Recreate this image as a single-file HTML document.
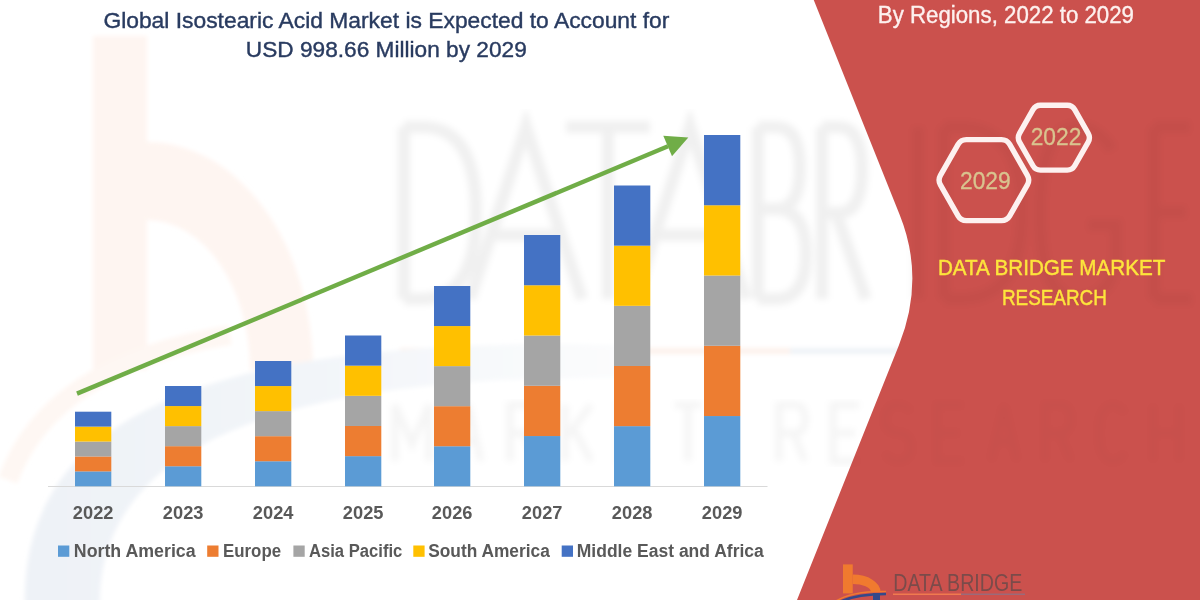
<!DOCTYPE html>
<html>
<head>
<meta charset="utf-8">
<style>
html,body{margin:0;padding:0;background:#ffffff;}
body{width:1200px;height:600px;overflow:hidden;}
svg{display:block;}
text{font-family:"Liberation Sans",sans-serif;}
</style>
</head>
<body>
<svg width="1200" height="600" viewBox="0 0 1200 600">
  <rect x="0" y="0" width="1200" height="600" fill="#ffffff"/>

  <!-- faint watermark logo -->
  <defs>
    <filter id="bl" x="-10%" y="-10%" width="120%" height="120%"><feGaussianBlur stdDeviation="3"/></filter>
    <filter id="bl2" x="-10%" y="-10%" width="120%" height="120%"><feGaussianBlur stdDeviation="2"/></filter>
    <clipPath id="redclip"><path d="M813.75 0 L1200 0 L1200 600 L797 600 L899 345 Q925.4 279 899.75 215 Z"/></clipPath>
    <linearGradient id="swg" x1="0" y1="0" x2="620" y2="0" gradientUnits="userSpaceOnUse">
      <stop offset="0" stop-color="#eef2f7"/><stop offset="0.5" stop-color="#f2f5f9"/><stop offset="1" stop-color="#fbfcfd"/>
    </linearGradient>
  </defs>
  <g id="wm" filter="url(#bl2)">
    <rect x="400" y="348" width="390" height="6" fill="#fdf2ec"/>
    <rect x="790" y="348" width="120" height="6" fill="#eff3f7"/>
    <rect x="93" y="36" width="54" height="334" fill="#fef5f1"/>
    <path d="M147 142 A166 228 0 0 1 313 370 L250 370 A103 150 0 0 0 147 220 Z" fill="#fef5f1"/>
    <path d="M8 480 Q 50 365 230 335" fill="none" stroke="#fef7f3" stroke-width="20"/>
    <path d="M25 610 C 18 420, 200 335, 620 345 L 620 378 C 270 375, 95 450, 100 610 Z" fill="url(#swg)"/>
  </g>

  
  <!-- watermark letters -->
  <g fill="none" stroke="#000" stroke-opacity="0.06" stroke-width="12" filter="url(#bl)">
    <path d="M404 127 L404 299 M404 127 L422 127 Q476 127 476 213.0 Q476 299 422 299 L404 299"/>
    <path d="M470 299 L526 127 L582 299 M491 235 L561 235"/>
    <path d="M566 127 L650 127 M608 127 L608 299"/>
    <path d="M634 299 L690 127 L746 299 M655 235 L725 235"/>
    <path d="M758 127 L758 299 M758 127 L776 127 Q800 127 800 168 Q800 209 776 209 L758 209 M776 209 Q806 209 806 254 Q806 299 776 299 L758 299"/>
    <path d="M822 127 L822 299 M822 127 L838 127 Q862 127 862 170 Q862 213 838 213 L822 213 M836 213 L866 299"/>
    <path d="M918 127 L918 299"/>
    <path d="M944 127 L944 299 M944 127 L960 127 Q1022 127 1022 213.0 Q1022 299 960 299 L944 299"/>
    <path d="M1112 150 Q1098 127 1078 127 Q1040 127 1040 213.0 Q1040 299 1078 299 Q1110 299 1116 260 L1116 225 L1088 225"/>
    <path d="M1154 127 L1154 299 M1154 127 L1190 127 M1154 212 L1186 212 M1154 299 L1192 299"/>
  </g>
  <g fill="none" stroke="#000" stroke-opacity="0.04" stroke-width="7" filter="url(#bl)">
    <path d="M 395.0 461.0 L 395.0 405.0 L 412.0 444.2 L 429.0 405.0 L 429.0 461.0"/>
    <path d="M 455.0 461.0 L 468.0 405.0 L 481.0 461.0 M 460.2 441.4 L 475.8 441.4"/>
    <path d="M 510.0 461.0 L 510.0 405.0 L 525.6 405.0 Q 536.0 405.0 536.0 419.0 Q 536.0 433.0 525.6 433.0 L 510.0 433.0 M 524.3 433.0 L 536.0 461.0"/>
    <path d="M 565.0 405.0 L 565.0 461.0 M 591.0 405.0 L 565.0 438.6 M 572.8 427.4 L 591.0 461.0"/>
    <path d="M 646.0 405.0 L 620.0 405.0 L 620.0 461.0 L 646.0 461.0 M 620.0 433.0 L 642.1 433.0"/>
    <path d="M 675.0 405.0 L 701.0 405.0 M 688.0 405.0 L 688.0 461.0"/>
    <path d="M 779.0 461.0 L 779.0 405.0 L 794.6 405.0 Q 805.0 405.0 805.0 419.0 Q 805.0 433.0 794.6 433.0 L 779.0 433.0 M 793.3 433.0 L 805.0 461.0"/>
    <path d="M 859.0 405.0 L 833.0 405.0 L 833.0 461.0 L 859.0 461.0 M 833.0 433.0 L 855.1 433.0"/>
    <path d="M 911.0 411.7 Q 905.8 405.0 898.0 405.0 Q 885.0 405.0 885.0 420.1 Q 885.0 433.0 898.0 433.0 Q 911.0 433.0 911.0 447.0 Q 911.0 461.0 898.0 461.0 Q 888.9 461.0 885.0 452.6"/>
    <path d="M 963.0 405.0 L 937.0 405.0 L 937.0 461.0 L 963.0 461.0 M 937.0 433.0 L 959.1 433.0"/>
    <path d="M 991.0 461.0 L 1004.0 405.0 L 1017.0 461.0 M 996.2 441.4 L 1011.8 441.4"/>
    <path d="M 1045.0 461.0 L 1045.0 405.0 L 1060.6 405.0 Q 1071.0 405.0 1071.0 419.0 Q 1071.0 433.0 1060.6 433.0 L 1045.0 433.0 M 1059.3 433.0 L 1071.0 461.0"/>
    <path d="M 1125.0 413.4 Q 1119.8 405.0 1113.3 405.0 Q 1099.0 405.0 1099.0 433.0 Q 1099.0 461.0 1113.3 461.0 Q 1119.8 461.0 1125.0 452.6"/>
    <path d="M 1153.0 405.0 L 1153.0 461.0 M 1179.0 405.0 L 1179.0 461.0 M 1153.0 433.0 L 1179.0 433.0"/>
  </g>

  <!-- red panel -->
  <path d="M813.75 0 L1200 0 L1200 600 L797 600 L899 345 Q925.4 279 899.75 215 Z" fill="#cb514d"/>
  <g clip-path="url(#redclip)" opacity="0.55">
  <g fill="none" stroke="#000" stroke-opacity="0.06" stroke-width="12" filter="url(#bl)">
    <path d="M404 127 L404 299 M404 127 L422 127 Q476 127 476 213.0 Q476 299 422 299 L404 299"/>
    <path d="M470 299 L526 127 L582 299 M491 235 L561 235"/>
    <path d="M566 127 L650 127 M608 127 L608 299"/>
    <path d="M634 299 L690 127 L746 299 M655 235 L725 235"/>
    <path d="M758 127 L758 299 M758 127 L776 127 Q800 127 800 168 Q800 209 776 209 L758 209 M776 209 Q806 209 806 254 Q806 299 776 299 L758 299"/>
    <path d="M822 127 L822 299 M822 127 L838 127 Q862 127 862 170 Q862 213 838 213 L822 213 M836 213 L866 299"/>
    <path d="M918 127 L918 299"/>
    <path d="M944 127 L944 299 M944 127 L960 127 Q1022 127 1022 213.0 Q1022 299 960 299 L944 299"/>
    <path d="M1112 150 Q1098 127 1078 127 Q1040 127 1040 213.0 Q1040 299 1078 299 Q1110 299 1116 260 L1116 225 L1088 225"/>
    <path d="M1154 127 L1154 299 M1154 127 L1190 127 M1154 212 L1186 212 M1154 299 L1192 299"/>
  </g>
  <g fill="none" stroke="#000" stroke-opacity="0.03" stroke-width="7" filter="url(#bl)">
    <path d="M 395.0 461.0 L 395.0 405.0 L 412.0 444.2 L 429.0 405.0 L 429.0 461.0"/>
    <path d="M 455.0 461.0 L 468.0 405.0 L 481.0 461.0 M 460.2 441.4 L 475.8 441.4"/>
    <path d="M 510.0 461.0 L 510.0 405.0 L 525.6 405.0 Q 536.0 405.0 536.0 419.0 Q 536.0 433.0 525.6 433.0 L 510.0 433.0 M 524.3 433.0 L 536.0 461.0"/>
    <path d="M 565.0 405.0 L 565.0 461.0 M 591.0 405.0 L 565.0 438.6 M 572.8 427.4 L 591.0 461.0"/>
    <path d="M 646.0 405.0 L 620.0 405.0 L 620.0 461.0 L 646.0 461.0 M 620.0 433.0 L 642.1 433.0"/>
    <path d="M 675.0 405.0 L 701.0 405.0 M 688.0 405.0 L 688.0 461.0"/>
    <path d="M 779.0 461.0 L 779.0 405.0 L 794.6 405.0 Q 805.0 405.0 805.0 419.0 Q 805.0 433.0 794.6 433.0 L 779.0 433.0 M 793.3 433.0 L 805.0 461.0"/>
    <path d="M 859.0 405.0 L 833.0 405.0 L 833.0 461.0 L 859.0 461.0 M 833.0 433.0 L 855.1 433.0"/>
    <path d="M 911.0 411.7 Q 905.8 405.0 898.0 405.0 Q 885.0 405.0 885.0 420.1 Q 885.0 433.0 898.0 433.0 Q 911.0 433.0 911.0 447.0 Q 911.0 461.0 898.0 461.0 Q 888.9 461.0 885.0 452.6"/>
    <path d="M 963.0 405.0 L 937.0 405.0 L 937.0 461.0 L 963.0 461.0 M 937.0 433.0 L 959.1 433.0"/>
    <path d="M 991.0 461.0 L 1004.0 405.0 L 1017.0 461.0 M 996.2 441.4 L 1011.8 441.4"/>
    <path d="M 1045.0 461.0 L 1045.0 405.0 L 1060.6 405.0 Q 1071.0 405.0 1071.0 419.0 Q 1071.0 433.0 1060.6 433.0 L 1045.0 433.0 M 1059.3 433.0 L 1071.0 461.0"/>
    <path d="M 1125.0 413.4 Q 1119.8 405.0 1113.3 405.0 Q 1099.0 405.0 1099.0 433.0 Q 1099.0 461.0 1113.3 461.0 Q 1119.8 461.0 1125.0 452.6"/>
    <path d="M 1153.0 405.0 L 1153.0 461.0 M 1179.0 405.0 L 1179.0 461.0 M 1153.0 433.0 L 1179.0 433.0"/>
  </g>

    </g>

  <!-- title -->
  <g fill="#293b60" stroke="#293b60" stroke-width="0.4" font-size="22.6">
    <text x="103.4" y="27.5" textLength="566" lengthAdjust="spacingAndGlyphs">Global Isostearic Acid Market is Expected to Account for</text>
    <text x="245.8" y="57" textLength="281" lengthAdjust="spacingAndGlyphs">USD 998.66 Million by 2029</text>
  </g>

  <!-- axis -->
  <line x1="48" y1="486.5" x2="767.5" y2="486.5" stroke="#d9d9d9" stroke-width="1.2"/>

  <!-- bars -->
  <g id="bars">
    <rect x="75" y="471.38" width="36.3" height="14.92" fill="#5b9bd5"/>
    <rect x="75" y="456.46" width="36.3" height="14.92" fill="#ed7d31"/>
    <rect x="75" y="441.54" width="36.3" height="14.92" fill="#a5a5a5"/>
    <rect x="75" y="426.62" width="36.3" height="14.92" fill="#ffc000"/>
    <rect x="75" y="411.70" width="36.3" height="14.92" fill="#4472c4"/>
    <rect x="165" y="466.24" width="36.3" height="20.06" fill="#5b9bd5"/>
    <rect x="165" y="446.18" width="36.3" height="20.06" fill="#ed7d31"/>
    <rect x="165" y="426.12" width="36.3" height="20.06" fill="#a5a5a5"/>
    <rect x="165" y="406.06" width="36.3" height="20.06" fill="#ffc000"/>
    <rect x="165" y="386.00" width="36.3" height="20.06" fill="#4472c4"/>
    <rect x="255" y="461.24" width="36.3" height="25.06" fill="#5b9bd5"/>
    <rect x="255" y="436.18" width="36.3" height="25.06" fill="#ed7d31"/>
    <rect x="255" y="411.12" width="36.3" height="25.06" fill="#a5a5a5"/>
    <rect x="255" y="386.06" width="36.3" height="25.06" fill="#ffc000"/>
    <rect x="255" y="361.00" width="36.3" height="25.06" fill="#4472c4"/>
    <rect x="345" y="456.14" width="36.3" height="30.16" fill="#5b9bd5"/>
    <rect x="345" y="425.98" width="36.3" height="30.16" fill="#ed7d31"/>
    <rect x="345" y="395.82" width="36.3" height="30.16" fill="#a5a5a5"/>
    <rect x="345" y="365.66" width="36.3" height="30.16" fill="#ffc000"/>
    <rect x="345" y="335.50" width="36.3" height="30.16" fill="#4472c4"/>
    <rect x="434" y="446.24" width="36.3" height="40.06" fill="#5b9bd5"/>
    <rect x="434" y="406.18" width="36.3" height="40.06" fill="#ed7d31"/>
    <rect x="434" y="366.12" width="36.3" height="40.06" fill="#a5a5a5"/>
    <rect x="434" y="326.06" width="36.3" height="40.06" fill="#ffc000"/>
    <rect x="434" y="286.00" width="36.3" height="40.06" fill="#4472c4"/>
    <rect x="524" y="436.04" width="36.3" height="50.26" fill="#5b9bd5"/>
    <rect x="524" y="385.78" width="36.3" height="50.26" fill="#ed7d31"/>
    <rect x="524" y="335.52" width="36.3" height="50.26" fill="#a5a5a5"/>
    <rect x="524" y="285.26" width="36.3" height="50.26" fill="#ffc000"/>
    <rect x="524" y="235.00" width="36.3" height="50.26" fill="#4472c4"/>
    <rect x="614" y="426.14" width="36.3" height="60.16" fill="#5b9bd5"/>
    <rect x="614" y="365.98" width="36.3" height="60.16" fill="#ed7d31"/>
    <rect x="614" y="305.82" width="36.3" height="60.16" fill="#a5a5a5"/>
    <rect x="614" y="245.66" width="36.3" height="60.16" fill="#ffc000"/>
    <rect x="614" y="185.50" width="36.3" height="60.16" fill="#4472c4"/>
    <rect x="704" y="416.04" width="36.3" height="70.26" fill="#5b9bd5"/>
    <rect x="704" y="345.78" width="36.3" height="70.26" fill="#ed7d31"/>
    <rect x="704" y="275.52" width="36.3" height="70.26" fill="#a5a5a5"/>
    <rect x="704" y="205.26" width="36.3" height="70.26" fill="#ffc000"/>
    <rect x="704" y="135.00" width="36.3" height="70.26" fill="#4472c4"/>
  </g>

  <!-- arrow -->
  <line x1="77" y1="393.6" x2="668" y2="146.3" stroke="#70ad47" stroke-width="4.4"/>
  <path d="M663.3 135.8 L688.3 137.5 L672 156.25 Z" fill="#70ad47"/>

  <!-- years -->
  <g fill="#595959" font-size="18" font-weight="bold" text-anchor="middle">
    <text x="93.15" y="518.9" textLength="40.6" lengthAdjust="spacingAndGlyphs">2022</text>
    <text x="183.15" y="518.9" textLength="40.6" lengthAdjust="spacingAndGlyphs">2023</text>
    <text x="273.15" y="518.9" textLength="40.6" lengthAdjust="spacingAndGlyphs">2024</text>
    <text x="363.15" y="518.9" textLength="40.6" lengthAdjust="spacingAndGlyphs">2025</text>
    <text x="452.15" y="518.9" textLength="40.6" lengthAdjust="spacingAndGlyphs">2026</text>
    <text x="542.15" y="518.9" textLength="40.6" lengthAdjust="spacingAndGlyphs">2027</text>
    <text x="632.15" y="518.9" textLength="40.6" lengthAdjust="spacingAndGlyphs">2028</text>
    <text x="722.15" y="518.9" textLength="40.6" lengthAdjust="spacingAndGlyphs">2029</text>
  </g>

  <!-- legend -->
  <g font-size="18" font-weight="bold" fill="#595959">
    <rect x="58" y="545.5" width="11.3" height="11.3" fill="#5b9bd5"/>
    <text x="73.8" y="557" textLength="121.8" lengthAdjust="spacingAndGlyphs">North America</text>
    <rect x="207.2" y="545.5" width="11.3" height="11.3" fill="#ed7d31"/>
    <text x="223" y="557" textLength="58.1" lengthAdjust="spacingAndGlyphs">Europe</text>
    <rect x="293.4" y="545.5" width="11.3" height="11.3" fill="#a5a5a5"/>
    <text x="309" y="557" textLength="93.3" lengthAdjust="spacingAndGlyphs">Asia Pacific</text>
    <rect x="413.3" y="545.5" width="11.3" height="11.3" fill="#ffc000"/>
    <text x="428.2" y="557" textLength="121.6" lengthAdjust="spacingAndGlyphs">South America</text>
    <rect x="561.7" y="545.5" width="11.3" height="11.3" fill="#4472c4"/>
    <text x="576.8" y="557" textLength="187" lengthAdjust="spacingAndGlyphs">Middle East and Africa</text>
  </g>

  <!-- right panel content -->
  <text x="877.8" y="22.6" font-size="23" fill="#fdf1ef" stroke="#fdf1ef" stroke-width="0.35" textLength="256.2" lengthAdjust="spacingAndGlyphs">By Regions, 2022 to 2029</text>

  <g fill="none" stroke="#fdf1f0" stroke-width="5.4" stroke-linejoin="round">
    <path d="M1019.52 142.05 Q1017.05 137.70 1019.52 133.35 L1032.98 109.65 Q1035.45 105.30 1040.45 105.30 L1067.25 105.30 Q1072.25 105.30 1074.72 109.65 L1088.18 133.35 Q1090.65 137.70 1088.18 142.05 L1074.72 165.75 Q1072.25 170.10 1067.25 170.10 L1040.45 170.10 Q1035.45 170.10 1032.98 165.75 Z"/>
    <path d="M940.42 184.93 Q937.70 180.15 940.42 175.37 L958.08 144.43 Q960.80 139.65 966.30 139.65 L1001.50 139.65 Q1007.00 139.65 1009.72 144.43 L1027.38 175.37 Q1030.10 180.15 1027.38 184.93 L1009.72 215.87 Q1007.00 220.65 1001.50 220.65 L966.30 220.65 Q960.80 220.65 958.08 215.87 Z"/>
  </g>
  <text x="1030.7" y="145.3" font-size="23" fill="#d9c48f" stroke="#d9c48f" stroke-width="0.3" textLength="50.6" lengthAdjust="spacingAndGlyphs">2022</text>
  <text x="960" y="188.7" font-size="23" fill="#d9c48f" stroke="#d9c48f" stroke-width="0.3" textLength="50.6" lengthAdjust="spacingAndGlyphs">2029</text>

  <g fill="#fde53c" stroke="#fde53c" stroke-width="0.45" font-size="22">
    <text x="937.9" y="275.4" textLength="227.5" lengthAdjust="spacingAndGlyphs">DATA BRIDGE MARKET</text>
    <text x="1001.9" y="305.2" textLength="105" lengthAdjust="spacingAndGlyphs">RESEARCH</text>
  </g>

  <!-- bottom logo -->
  <g>
    <rect x="843" y="564.4" width="9.75" height="29" fill="#f07a2f"/>
    <path d="M852.75 574.5 A27.75 17.5 0 0 1 880.5 592 L870.8 592 A18 8 0 0 0 852.75 584 Z" fill="#f07a2f"/>
    <path d="M836 601 Q 852 591 886 591.5" stroke="#f07a2f" stroke-width="1.6" fill="none"/>
    <path d="M842 601 Q 858 594 886 594" stroke="#34498a" stroke-width="2.6" fill="none"/>
    <rect x="873" y="593" width="7" height="7" fill="#34498a"/>
    <text x="893.3" y="590.7" font-size="23" fill="#7a4b4a" textLength="129" lengthAdjust="spacingAndGlyphs">DATA BRIDGE</text>
    <rect x="893" y="593.5" width="68" height="1.5" fill="#f07a4f"/>
    <rect x="961" y="593.5" width="64" height="1.5" fill="#9a6a7a"/>
  </g>
</svg>
</body>
</html>
